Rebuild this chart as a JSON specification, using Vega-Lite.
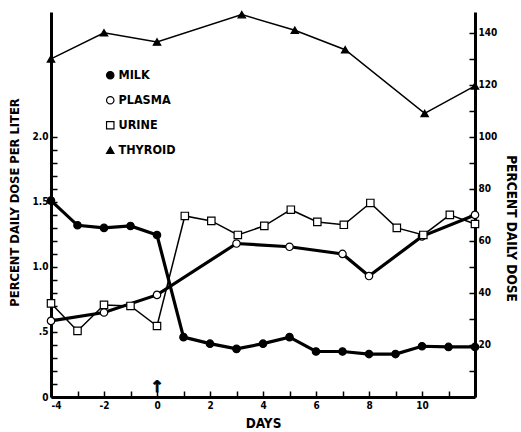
{
  "$schema": "https://vega.github.io/schema/vega-lite/v6.json",
  "width": 424,
  "height": 385,
  "autosize": {"type": "none"},
  "padding": {"left": 51, "top": 12, "right": 46, "bottom": 35},
  "background": "white",
  "config": {
    "view": {"stroke": null},
    "font": "Liberation Sans Narrow, DejaVu Sans Condensed, sans-serif",
    "axis": {
      "grid": false,
      "domainColor": "black",
      "domainWidth": 3,
      "tickColor": "black",
      "tickWidth": 1.5,
      "tickSize": -6,
      "labelPadding": 9,
      "labelFont": "Liberation Sans Narrow, DejaVu Sans Condensed, sans-serif",
      "labelFontWeight": "bold",
      "labelFontSize": 10,
      "labelColor": "black",
      "labelOverlap": false,
      "titleFont": "Liberation Sans Narrow, DejaVu Sans Condensed, sans-serif",
      "titleFontWeight": "bold",
      "titleFontSize": 13.5,
      "titleColor": "black"
    },
    "legend": {
      "labelFont": "Liberation Sans Narrow, DejaVu Sans Condensed, sans-serif",
      "labelFontWeight": "bold",
      "labelFontSize": 12.5,
      "labelColor": "black",
      "symbolStrokeColor": "black",
      "symbolStrokeWidth": 1.2,
      "symbolSize": 55,
      "labelOffset": 2,
      "rowPadding": 12,
      "padding": 0
    }
  },
  "datasets": {
    "left": [
      {"series": "MILK", "day": -4, "value": 1.51},
      {"series": "MILK", "day": -3, "value": 1.32},
      {"series": "MILK", "day": -2, "value": 1.30},
      {"series": "MILK", "day": -1, "value": 1.315},
      {"series": "MILK", "day": 0, "value": 1.245},
      {"series": "MILK", "day": 1, "value": 0.46},
      {"series": "MILK", "day": 2, "value": 0.41},
      {"series": "MILK", "day": 3, "value": 0.37},
      {"series": "MILK", "day": 4, "value": 0.41},
      {"series": "MILK", "day": 5, "value": 0.46},
      {"series": "MILK", "day": 6, "value": 0.35},
      {"series": "MILK", "day": 7, "value": 0.35},
      {"series": "MILK", "day": 8, "value": 0.33},
      {"series": "MILK", "day": 9, "value": 0.33},
      {"series": "MILK", "day": 10, "value": 0.39},
      {"series": "MILK", "day": 11, "value": 0.385},
      {"series": "MILK", "day": 12, "value": 0.385},
      {"series": "PLASMA", "day": -4, "value": 0.585},
      {"series": "PLASMA", "day": -2, "value": 0.65},
      {"series": "PLASMA", "day": 0, "value": 0.785},
      {"series": "PLASMA", "day": 3, "value": 1.18},
      {"series": "PLASMA", "day": 5, "value": 1.155},
      {"series": "PLASMA", "day": 7, "value": 1.10},
      {"series": "PLASMA", "day": 8, "value": 0.93},
      {"series": "PLASMA", "day": 10, "value": 1.235},
      {"series": "PLASMA", "day": 12, "value": 1.40}
    ],
    "right": [
      {"series": "URINE", "day": -4, "value": 36},
      {"series": "URINE", "day": -3, "value": 25.4},
      {"series": "URINE", "day": -2, "value": 35.4},
      {"series": "URINE", "day": -1, "value": 35},
      {"series": "URINE", "day": 0, "value": 27.3},
      {"series": "URINE", "day": 1.05, "value": 69.6},
      {"series": "URINE", "day": 2.05, "value": 67.7},
      {"series": "URINE", "day": 3.05, "value": 62.3},
      {"series": "URINE", "day": 4.05, "value": 65.8},
      {"series": "URINE", "day": 5.05, "value": 72},
      {"series": "URINE", "day": 6.05, "value": 67.3},
      {"series": "URINE", "day": 7.05, "value": 66.2},
      {"series": "URINE", "day": 8.05, "value": 74.6},
      {"series": "URINE", "day": 9.05, "value": 65},
      {"series": "URINE", "day": 10.05, "value": 62.3},
      {"series": "URINE", "day": 11.05, "value": 70},
      {"series": "URINE", "day": 12, "value": 66.5},
      {"series": "THYROID", "day": -4, "value": 130},
      {"series": "THYROID", "day": -2, "value": 140},
      {"series": "THYROID", "day": 0, "value": 136.5},
      {"series": "THYROID", "day": 3.2, "value": 147},
      {"series": "THYROID", "day": 5.2, "value": 141},
      {"series": "THYROID", "day": 7.1, "value": 133.5},
      {"series": "THYROID", "day": 10.1, "value": 109},
      {"series": "THYROID", "day": 12, "value": 119.6}
    ],
    "marker": [
      {"day": 0, "value": 0.08, "label": "↑"}
    ]
  },
  "encoding": {
    "x": {
      "field": "day",
      "type": "quantitative",
      "scale": {"domain": [-4, 12], "nice": false, "zero": false},
      "axis": {
        "title": "DAYS",
        "titleY": 19,
        "values": [-4, -3, -2, -1, 0, 1, 2, 3, 4, 5, 6, 7, 8, 9, 10, 11, 12],
        "labelExpr": "(datum.value % 2 == 0 && datum.value < 12) ? (datum.value < 0 ? '-' + abs(datum.value) : '' + datum.value) : ''"
      }
    }
  },
  "layer": [
    {
      "data": {"name": "left"},
      "encoding": {
        "y": {
          "field": "value",
          "type": "quantitative",
          "scale": {"domain": [0, 2.96], "nice": false},
          "axis": {
            "orient": "left",
            "title": "PERCENT DAILY DOSE PER LITER",
            "titleFontSize": 12.8,
            "titleX": -30,
            "titleY": 190,
            "values": [0, 0.1, 0.2, 0.3, 0.4, 0.5, 0.6, 0.7, 0.8, 0.9, 1.0, 1.1, 1.2, 1.3, 1.4, 1.5, 1.6, 1.7, 1.8, 1.9, 2.0],
            "labelExpr": "datum.value == 0 ? '0' : (abs(datum.value - 0.5) < 0.001 ? '.5' : (abs(datum.value - 1) < 0.001 ? '1.0' : (abs(datum.value - 1.5) < 0.001 ? '1.5' : (abs(datum.value - 2) < 0.001 ? '2.0' : ''))))"
          }
        }
      },
      "layer": [
        {
          "mark": {"type": "line", "color": "black", "strokeWidth": 3.2},
          "encoding": {"detail": {"field": "series"}}
        },
        {
          "mark": {"type": "point", "filled": true, "strokeWidth": 1.2, "size": 55, "opacity": 1},
          "encoding": {
            "shape": {"field": "series", "type": "nominal", "scale": {"domain": ["MILK", "PLASMA", "URINE", "THYROID"], "range": ["circle", "circle", "square", "triangle-up"]}, "legend": {"title": null, "orient": "none", "legendX": 53, "legendY": 57}},
            "fill": {"field": "series", "type": "nominal", "scale": {"domain": ["MILK", "PLASMA", "URINE", "THYROID"], "range": ["black", "white", "white", "black"]}, "legend": {"title": null, "orient": "none", "legendX": 53, "legendY": 57}},
            "stroke": {"field": "series", "type": "nominal", "scale": {"domain": ["MILK", "PLASMA", "URINE", "THYROID"], "range": ["black", "black", "black", "black"]}, "legend": {"title": null, "orient": "none", "legendX": 53, "legendY": 57}}
          }
        }
      ]
    },
    {
      "data": {"name": "right"},
      "encoding": {
        "y": {
          "field": "value",
          "type": "quantitative",
          "scale": {"domain": [0, 148], "nice": false},
          "axis": {
            "orient": "right",
            "title": "PERCENT DAILY DOSE",
            "titleX": 28,
            "titleY": 216,
            "values": [10, 20, 30, 40, 50, 60, 70, 80, 90, 100, 110, 120, 130, 140],
            "labelExpr": "datum.value % 20 == 0 ? '' + datum.value : ''"
          }
        }
      },
      "layer": [
        {
          "mark": {"type": "line", "color": "black", "strokeWidth": 1.5},
          "encoding": {"detail": {"field": "series"}}
        },
        {
          "mark": {"type": "point", "filled": true, "strokeWidth": 1.2, "size": 55, "opacity": 1},
          "encoding": {
            "shape": {"field": "series", "type": "nominal"},
            "fill": {"field": "series", "type": "nominal"},
            "stroke": {"field": "series", "type": "nominal"}
          }
        }
      ]
    },
    {
      "data": {"name": "marker"},
      "mark": {"type": "text", "fontSize": 16, "fontWeight": "bold", "color": "black", "baseline": "middle", "align": "center", "font": "DejaVu Sans", "stroke": "black", "strokeWidth": 0.8},
      "encoding": {
        "y": {"field": "value", "type": "quantitative", "scale": {"domain": [0, 2.96], "nice": false}, "axis": null},
        "text": {"field": "label"}
      }
    }
  ],
  "resolve": {"scale": {"y": "independent"}}
}
